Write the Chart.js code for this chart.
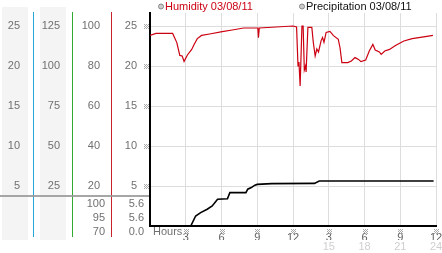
<!DOCTYPE html>
<html>
<head>
<meta charset="utf-8">
<script src="https://cdn.jsdelivr.net/npm/chart.js@4/dist/chart.umd.min.js"></script>
<style>
  html, body { margin: 0; padding: 0; background: #fff; }
  canvas { display: block; }
</style>
</head>
<body>
<canvas id="chart" width="442" height="253"></canvas>
<script>
// ============================================
// Humidity / precipitation day chart
// ============================================

// Humidity 03/08/11 (%), hours since start
const humHours = [0, 0.5, 1.9, 2.25, 2.5, 2.7, 2.86, 3.14, 3.5, 3.7, 3.97, 4.33, 5, 6.06, 6.9, 7.86,
    9.05, 9.1, 9.17, 12.0, 12.3, 12.42, 12.5, 12.6, 12.75, 12.85, 12.95, 13.05, 13.1, 13.25, 13.58,
    13.7, 13.86, 14.0, 14.14, 14.36, 14.48, 14.6, 14.78, 15.1, 15.4, 15.8, 15.95, 16.1, 16.6, 16.9,
    17.2, 17.5, 17.7, 18.1, 18.4, 18.7, 18.9, 19.25, 19.4, 19.7, 20.1, 20.6, 21.3, 22.0, 23.1, 23.75];
const humValues = [95.3, 96.3, 96.3, 91.7, 85.3, 85, 82.3, 85.5, 88.3, 90.8, 93.7, 95.3, 96, 97.2, 98, 99,
    99, 94.2, 99, 100, 99.5, 80, 82, 70, 100, 100, 78, 80, 77, 99.3, 99.3,
    92, 85, 88.5, 87, 92.7, 94.3, 91.8, 96.8, 97.3, 95.2, 93.3, 89, 81.7, 81.7, 82.5,
    84.2, 83.3, 82.2, 83, 87.5, 90.8, 88, 87, 85.8, 87.5, 88.3, 90.3, 92.5, 93.7, 94.7, 95.3];

// Precipitation 03/08/11 (mm), hours since start
const precHours = [0, 3.42, 3.83, 4.25, 4.8, 5.22, 5.67, 6.5, 6.7, 8.05, 8.2, 8.5, 8.8, 9.0, 10.2, 13.8, 14.2, 23.8];
const precValues = [0, 0, 1.25, 1.67, 2.1, 2.5, 3.35, 3.4, 4.17, 4.17, 4.6, 4.8, 5.1, 5.2, 5.3, 5.33, 5.63, 5.63];

// Tick labels of the four left columns
const colATicks = [5, 10, 15, 20, 25];
const colBTicks = [25, 50, 75, 100, 125];
const colCTicks = [20, 40, 60, 80, 100];
const colDTicks = [5, 10, 15, 20, 25];

// Summary rows under the separator (max / last / min)
const humStats = ['100', '95', '70'];
const precStats = ['5.6', '5.6', '0.0'];

const legendLabels = ['Humidity 03/08/11', 'Precipitation 03/08/11'];

const FONT = { family: 'Liberation Sans', size: 11 };
const LABEL_GREY = '#707070';
const TOP = 26.625;

function setTicks(values) {
    return scale => { scale.ticks = values.map(v => ({ value: v })); };
}

// fixed column width, and no extra room for half labels at the ends
function fitWidth(width) {
    return s => {
        s.width = width;
        s.paddingTop = 0;
        s.paddingBottom = 0;
    };
}

function fitHeight(height) {
    return s => {
        s.height = height;
        s.paddingLeft = 0;
        s.paddingRight = 0;
    };
}

function leftAxis(max, ticks, width, weight, padding) {
    return {
        position: 'left',
        min: 0,
        max: max,
        weight: weight,
        afterBuildTicks: setTicks(ticks),
        afterFit: fitWidth(width),
        grid: { display: false, drawTicks: false },
        border: { display: false },
        ticks: { color: LABEL_GREY, font: FONT, padding: padding }
    };
}

// small checkered tick glyph
function drawMark(ctx, cx, cy) {
    ctx.fillStyle = '#a8a8a8';
    for (let i = -2; i <= 2; i++) {
        for (let j = -2; j <= 2; j++) {
            if (((i + j) & 1) === 0) ctx.fillRect(cx + i, cy + j, 1, 1);
        }
    }
}

const panelPlugin = {
    id: 'panel',
    beforeDraw(chart) {
        const ctx = chart.ctx;
        const s = chart.scales;
        ctx.save();
        ctx.fillStyle = '#fff';
        ctx.fillRect(0, 0, chart.width, chart.height);
        ctx.fillStyle = '#f4f4f4';
        ctx.fillRect(s.ya.left + 2, 7, 26, 233);
        ctx.fillRect(s.yb.left + 7, 7, 26, 233);
        ctx.restore();
    },
    afterDraw(chart) {
        const ctx = chart.ctx;
        const s = chart.scales;
        const area = chart.chartArea;
        ctx.save();

        // column separators
        const seps = [[s.ya.right, 'rgb(40,165,215)'], [s.yb.right, 'rgb(50,170,50)'], [s.yh.right, 'rgb(200,35,45)']];
        seps.forEach(([x, c]) => {
            ctx.fillStyle = c;
            ctx.fillRect(Math.round(x), 12, 1, 225);
        });

        // separator above the summary rows
        ctx.fillStyle = 'rgba(150,150,150,0.85)';
        ctx.fillRect(0, 195, area.left - 1, 2);

        ctx.font = '11px "Liberation Sans"';
        ctx.fillStyle = LABEL_GREY;
        ctx.textAlign = 'right';
        ctx.textBaseline = 'middle';
        [204, 218, 232].forEach((y, i) => {
            ctx.fillText(humStats[i], s.yh.right - 6, y);
            ctx.fillText(precStats[i], s.y.right - 6, y);
        });

        // tick glyphs
        s.y.ticks.forEach(t => drawMark(ctx, area.left - 4, Math.round(s.y.getPixelForValue(t.value))));
        s.x.ticks.forEach(t => {
            if (t.value > 0) drawMark(ctx, Math.round(s.x.getPixelForValue(t.value)), 231);
        });

        ctx.fillStyle = LABEL_GREY;
        ctx.textAlign = 'left';
        ctx.fillText('Hours', area.left + 3, 232);

        // legend
        const items = [[area.left + 11, '#cc0011'], [302, '#111']];
        items.forEach(([x, c], i) => {
            ctx.beginPath();
            ctx.arc(x, 6.5, 2.5, 0, Math.PI * 2);
            ctx.fillStyle = '#ccc';
            ctx.fill();
            ctx.strokeStyle = '#888';
            ctx.lineWidth = 1;
            ctx.stroke();
            ctx.fillStyle = c;
            ctx.fillText(legendLabels[i], x + 4, 7);
        });
        ctx.restore();
    }
};

const toPoints = (xs, ys) => xs.map((x, i) => ({ x: x, y: ys[i] }));

new Chart(document.getElementById('chart'), {
    type: 'line',
    data: {
        datasets: [{
            label: legendLabels[0],
            data: toPoints(humHours, humValues),
            yAxisID: 'yh',
            borderColor: '#cc0011',
            borderWidth: 1.2,
            pointRadius: 0,
            tension: 0
        }, {
            label: legendLabels[1],
            data: toPoints(precHours, precValues),
            yAxisID: 'y',
            borderColor: '#000',
            borderWidth: 1.6,
            pointRadius: 0,
            tension: 0
        }]
    },
    options: {
        responsive: false,
        animation: false,
        devicePixelRatio: 1,
        layout: { padding: { top: 13, right: 6, left: 0, bottom: 0 } },
        plugins: {
            legend: { display: false },
            tooltip: { enabled: false }
        },
        scales: {
            x: {
                type: 'linear',
                position: 'bottom',
                min: 0,
                max: 24,
                afterFit: fitHeight(14),
                grid: { color: '#dddddd', drawTicks: false },
                border: { color: '#000', width: 2 },
                ticks: {
                    stepSize: 3,
                    autoSkip: false,
                    maxRotation: 0,
                    padding: 5,
                    color: '#606060',
                    font: FONT,
                    callback: v => v === 0 ? '' : (v > 12 ? v - 12 : v)
                }
            },
            xb: {
                type: 'linear',
                position: 'bottom',
                min: 0,
                max: 24,
                afterFit: fitHeight(13),
                grid: { display: false, drawTicks: false },
                border: { display: false },
                ticks: {
                    stepSize: 3,
                    autoSkip: false,
                    maxRotation: 0,
                    padding: 0,
                    color: '#cfcfcf',
                    font: FONT,
                    callback: v => v > 12 ? v : ''
                }
            },
            // main axis (precipitation) next to the plot
            y: {
                position: 'left',
                min: 0,
                max: TOP,
                weight: 1,
                afterBuildTicks: setTicks(colDTicks),
                afterFit: fitWidth(39),
                grid: { color: '#dddddd', drawTicks: false },
                border: { color: '#000', width: 2 },
                ticks: { color: LABEL_GREY, font: FONT, padding: 13 }
            },
            yh: leftAxis(TOP * 4, colCTicks, 39, 2, 11),
            yb: leftAxis(TOP * 5, colBTicks, 39, 3, 12),
            ya: leftAxis(TOP, colATicks, 33, 4, 13)
        }
    },
    plugins: [panelPlugin]
});
</script>
</body>
</html>
